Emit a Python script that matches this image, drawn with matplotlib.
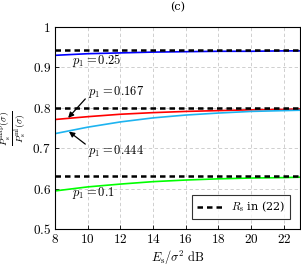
import matplotlib
matplotlib.use("Agg")
import matplotlib.pyplot as plt

plt.rcParams['mathtext.fontset'] = 'cm'
plt.rcParams['font.family'] = ['DejaVu Serif']

snr_db = [8, 10, 12, 14, 16, 18, 20, 22, 23]
ratio_p025 = [0.930, 0.934, 0.936, 0.938, 0.939, 0.940, 0.940, 0.941, 0.941]
ratio_p0167 = [0.771, 0.778, 0.784, 0.788, 0.791, 0.793, 0.795, 0.796, 0.797]
ratio_p0444 = [0.736, 0.752, 0.765, 0.775, 0.782, 0.787, 0.791, 0.793, 0.794]
ratio_p01 = [0.594, 0.604, 0.611, 0.617, 0.621, 0.624, 0.626, 0.627, 0.628]
rs_levels = [0.943, 0.800, 0.630]

xticks = [8, 10, 12, 14, 16, 18, 20, 22]
xtick_labels = ['$8$', '$10$', '$12$', '$14$', '$16$', '$18$', '$20$', '$22$']
yticks = [0.5, 0.6, 0.7, 0.8, 0.9, 1.0]
ytick_labels = ['$0.5$', '$0.6$', '$0.7$', '$0.8$', '$0.9$', '$1$']

fig = plt.figure(figsize=(3.01, 2.68), dpi=100)
ax = fig.add_axes([0.183, 0.146, 0.814, 0.753])

ax.plot(snr_db, ratio_p025, color='#0000ff', lw=1.2)
ax.plot(snr_db, ratio_p0167, color='#ff0000', lw=1.2)
ax.plot(snr_db, ratio_p0444, color='#1eb4f0', lw=1.2)
ax.plot(snr_db, ratio_p01, color='#00ff00', lw=1.2)
for i, lvl in enumerate(rs_levels):
    ax.plot([snr_db[0], snr_db[-1]], [lvl, lvl], color='black', lw=1.8,
            ls=(0, (2.2, 1.6)), label=r'$R_{\mathrm{s}}$ in (22)' if i == 0 else None)

ax.set_xlim(8, 23)
ax.set_ylim(0.5, 1.0)
ax.set_xticks(xticks)
ax.set_xticklabels(xtick_labels, fontsize=9.5)
ax.set_yticks(yticks)
ax.set_yticklabels(ytick_labels, fontsize=9.5)
ax.grid(True, color='#c8c8c8', ls=(0, (4, 3)), lw=0.6)
ax.tick_params(direction='in', length=3, width=0.6, pad=3)
for s in ax.spines.values():
    s.set_linewidth(0.8)

ax.set_xlabel(r'$E_{\mathrm{s}}/\sigma^2\ \mathrm{dB}$', fontsize=9, labelpad=2)
ax.set_ylabel(r'$\frac{P_{\mathrm{s}}^{\mathrm{map}}(\sigma)}{P_{\mathrm{s}}^{\mathrm{ml}}(\sigma)}$',
              fontsize=10)
ax.yaxis.set_label_coords(-0.11, 0.5)
ax.set_title('(c)', fontsize=8, pad=12, x=0.5)

arrow_kw = dict(arrowstyle='-|>', color='black', lw=0.9, shrinkA=0, shrinkB=0,
                mutation_scale=8)
ax.text(9.02, 0.918, r'$p_1 = 0.25$', fontsize=9, va='center')
ax.text(10.02, 0.839, r'$p_1 = 0.167$', fontsize=9, va='center')
ax.annotate('', xy=(8.8, 0.775), xytext=(9.85, 0.822), arrowprops=arrow_kw)
ax.text(10.02, 0.693, r'$p_1 = 0.444$', fontsize=9, va='center')
ax.annotate('', xy=(8.85, 0.741), xytext=(9.85, 0.710), arrowprops=arrow_kw)
ax.text(9.02, 0.590, r'$p_1 = 0.1$', fontsize=9, va='center')

leg = ax.legend(loc='lower right', fontsize=8, frameon=True, fancybox=False,
                edgecolor='black', handlelength=2.2, borderpad=0.45,
                bbox_to_anchor=(0.98, 0.02))
leg.get_frame().set_linewidth(0.8)

fig.savefig('out.png', dpi=100)
